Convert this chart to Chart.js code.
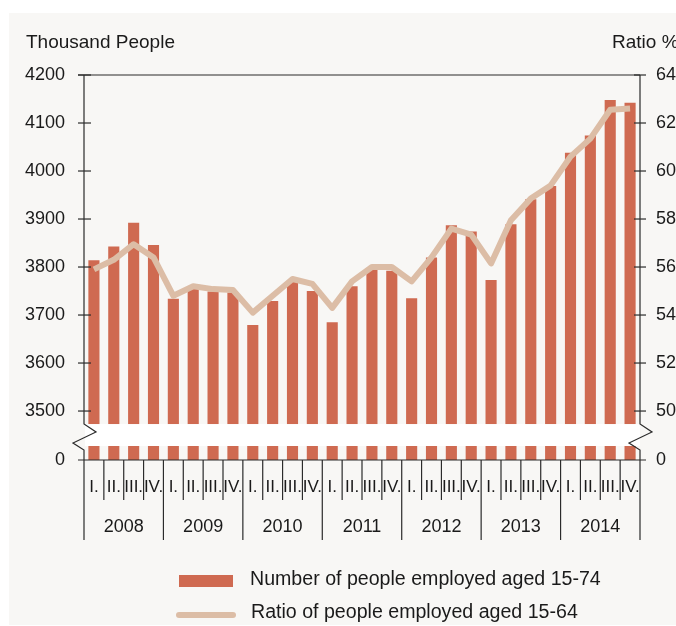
<!DOCTYPE html>
<html>
<head>
<meta charset="utf-8">
<script src="https://cdn.jsdelivr.net/npm/chart.js@4.4.1/dist/chart.umd.min.js"></script>
<style>
  html, body { margin: 0; padding: 0; background: #fff; }
  #wrap { position: relative; width: 676px; height: 626px; overflow: hidden; }
  #panel { position: absolute; left: 9px; top: 13px; right: 0; bottom: 1px; background: #f8f7f5; }
  canvas { position: absolute; left: 0; top: 0; }
</style>
</head>
<body>
<div id="wrap"><div id="panel"></div><canvas id="myChart" width="676" height="626"></canvas></div>
<script>
// data
const years = ['2008', '2009', '2010', '2011', '2012', '2013', '2014'];
const quarters = ['I.', 'II.', 'III.', 'IV.'];
const employed = [
  3814, 3843, 3892, 3846,
  3734, 3758, 3749, 3747,
  3679, 3729, 3769, 3750,
  3685, 3760, 3794, 3792,
  3735, 3820, 3887, 3874,
  3773, 3889, 3941, 3969,
  4038, 4074, 4148, 4142
];
const ratio = [
  55.9, 56.3, 56.95, 56.4,
  54.8, 55.2, 55.08, 55.04,
  54.1, 54.8, 55.5, 55.3,
  54.3, 55.4, 56.0, 56.0,
  55.4, 56.4, 57.6, 57.35,
  56.15, 57.95, 58.85, 59.4,
  60.6, 61.35, 62.55, 62.6
];
const leftTicks = [3500, 3600, 3700, 3800, 3900, 4000, 4100, 4200];
const rightTicks = [50, 52, 54, 56, 58, 60, 62, 64];
// broken axes: the bottom of each axis stands for 0
const leftZero = 3398;
const rightZero = 47.96;

const labelFont = "'Liberation Sans', Arial, sans-serif";
const ink = '#1a1a1a';
const barColor = '#cf6a51';
const lineColor = '#dcbda6';

const quarterLabels = years.flatMap(() => quarters);

function zeroTicks(zero, list) {
  return (scale) => {
    scale.ticks = [zero].concat(list).map(v => ({ value: v }));
  };
}

const decor = {
  id: 'decor',
  afterDatasetsDraw(chart) {
    const { ctx, chartArea: a, scales } = chart;
    const yl = scales.y, yr = scales.y2, x = scales.x;
    const gapTop = yl.getPixelForValue(leftTicks[0]) + 13;
    const gapBot = yl.getPixelForValue(leftZero) - 14;
    ctx.save();

    // white band of the axis break
    ctx.fillStyle = '#fff';
    ctx.fillRect(a.left + 1, gapTop, a.right - a.left - 1, gapBot - gapTop);

    ctx.strokeStyle = '#2b2b2b';
    ctx.lineWidth = 1.2;
    const seg = (x1, y1, x2, y2) => {
      ctx.beginPath(); ctx.moveTo(x1, y1); ctx.lineTo(x2, y2); ctx.stroke();
    };
    const axis = (xa) => {
      ctx.beginPath();
      ctx.moveTo(xa, a.top);
      ctx.lineTo(xa, gapTop);
      ctx.lineTo(xa + 12, gapTop + 8);
      ctx.lineTo(xa - 11, gapTop + 19);
      ctx.lineTo(xa, gapTop + 26);
      ctx.lineTo(xa, a.bottom);
      ctx.stroke();
    };
    seg(a.left - 6, a.top, a.right, a.top);
    seg(a.left - 6, a.bottom, a.right + 6, a.bottom);
    axis(a.left);
    axis(a.right);
    leftTicks.forEach(v => {
      const y = yl.getPixelForValue(v);
      seg(a.left - 6, y, a.left + 7, y);
    });
    rightTicks.forEach(v => {
      const y = yr.getPixelForValue(v);
      seg(a.right - 6, y, a.right + 6, y);
    });

    // separators under the categories
    const n = quarterLabels.length;
    for (let k = 0; k <= n; k++) {
      let xs;
      if (k === 0) xs = a.left;
      else if (k === n) xs = a.right;
      else xs = (x.getPixelForValue(k - 1) + x.getPixelForValue(k)) / 2;
      const len = k % quarters.length === 0 ? 80 : 40;
      seg(xs, a.bottom, xs, a.bottom + len);
    }

    // axis titles
    ctx.fillStyle = ink;
    ctx.font = '19px ' + labelFont;
    ctx.textBaseline = 'alphabetic';
    ctx.textAlign = 'left';
    ctx.fillText('Thousand People', 26, 48);
    ctx.fillText('Ratio %', 612, 48);

    // legend
    const ds = chart.data.datasets;
    const bar = ds.find(d => d.type === 'bar');
    const line = ds.find(d => d.type === 'line');
    ctx.fillStyle = bar.backgroundColor;
    ctx.fillRect(179, 575, 54, 12);
    ctx.strokeStyle = line.borderColor;
    ctx.lineWidth = 6;
    ctx.lineCap = 'round';
    seg(179, 615, 233, 615);
    ctx.fillStyle = ink;
    ctx.font = '19.6px ' + labelFont;
    ctx.textBaseline = 'middle';
    ctx.fillText(bar.label, 250, 580);
    ctx.fillText(line.label, 251, 613);

    ctx.restore();
  }
};

const ctx = document.getElementById('myChart').getContext('2d');
const myChart = new Chart(ctx, {
  data: {
    labels: quarterLabels,
    datasets: [
      {
        type: 'line',
        label: 'Ratio of people employed aged 15-64',
        data: ratio,
        yAxisID: 'y2',
        borderColor: lineColor,
        borderWidth: 6,
        pointRadius: 0,
        tension: 0,
        borderJoinStyle: 'round',
        order: 1
      },
      {
        type: 'bar',
        label: 'Number of people employed aged 15-74',
        data: employed,
        yAxisID: 'y',
        backgroundColor: barColor,
        barPercentage: 0.56,
        categoryPercentage: 1,
        order: 2
      }
    ]
  },
  options: {
    responsive: false,
    animation: false,
    events: [],
    layout: { padding: { top: 75, left: 0, right: 0, bottom: 0 } },
    plugins: { legend: { display: false }, tooltip: { enabled: false } },
    scales: {
      x: {
        type: 'category',
        position: 'bottom',
        weight: 0,
        offset: true,
        grid: { display: false, drawTicks: false },
        border: { display: false },
        ticks: {
          autoSkip: false, maxRotation: 0, padding: 17,
          color: ink, font: { family: labelFont, size: 17 }
        },
        afterFit(scale) { scale.height = 52; }
      },
      x2: {
        type: 'category',
        position: 'bottom',
        weight: 1,
        labels: years,
        offset: true,
        grid: { display: false, drawTicks: false },
        border: { display: false },
        ticks: {
          autoSkip: false, maxRotation: 0, padding: 4,
          color: ink, font: { family: labelFont, size: 18 }
        },
        afterFit(scale) { scale.height = 114; }
      },
      y: {
        type: 'linear',
        position: 'left',
        min: leftZero,
        max: 4200,
        afterBuildTicks: zeroTicks(leftZero, leftTicks),
        grid: { display: false, drawTicks: false },
        border: { display: false },
        ticks: {
          padding: 19, color: ink, font: { family: labelFont, size: 18 },
          callback: v => (v === leftZero ? '0' : String(v))
        },
        afterFit(scale) { scale.width = 84; }
      },
      y2: {
        type: 'linear',
        position: 'right',
        min: rightZero,
        max: 64,
        afterBuildTicks: zeroTicks(rightZero, rightTicks),
        grid: { display: false, drawTicks: false },
        border: { display: false },
        ticks: {
          padding: 16, color: ink, font: { family: labelFont, size: 18 },
          callback: v => (v === rightZero ? '0' : String(v))
        },
        afterFit(scale) { scale.width = 36; }
      }
    }
  },
  plugins: [decor]
});
</script>
</body>
</html>
